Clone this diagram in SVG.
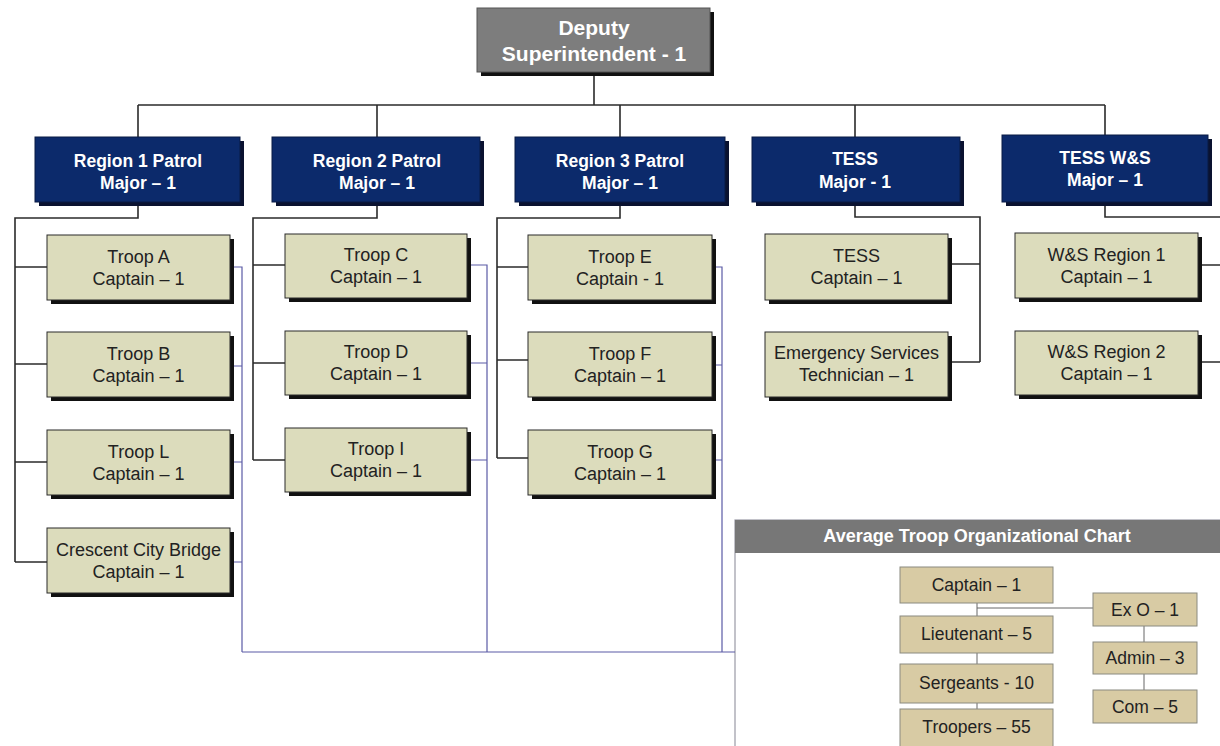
<svg xmlns="http://www.w3.org/2000/svg" width="1220" height="746" viewBox="0 0 1220 746">
<style>
text{font-family:"Liberation Sans",Arial,sans-serif;text-anchor:middle}
.sh{fill:#111}
.troop{fill:#dcdcbc;stroke:#2a2a2a;stroke-width:1}
.tt{font-size:18px;fill:#222}
.reg{fill:#0c2a6b;stroke:#081a45;stroke-width:1}
.rsh{fill:#0a1230}
.rt{font-size:17.5px;font-weight:bold;fill:#fff}
.dep{fill:#7d7d7d;stroke:#555;stroke-width:1}
.dt{font-size:21px;font-weight:bold;fill:#fff}
.conn{fill:none;stroke:#2b2b2b;stroke-width:1.6}
.blue{fill:none;stroke:#5b5ba6;stroke-width:1.2}
.ib{fill:#d8cba4;stroke:#8a8a80;stroke-width:1}
.it{font-size:17.5px;fill:#222}
.thin{fill:none;stroke:#666;stroke-width:1}
</style>
<rect width="1220" height="746" fill="#fff"/>

<g id="inset">
  <rect x="735" y="520" width="500" height="240" fill="#fff" stroke="#9a9aa6" stroke-width="1.2"/>
  <rect x="735" y="520" width="500" height="33" fill="#777"/>
  <text x="977" y="542" style="font-size:18px;font-weight:bold;fill:#fff">Average Troop Organizational Chart</text>
</g>

<g id="connectors">
  <path class="conn" d="M594 73V105M138 105H1105M138 105V137M377 105V137M620 105V137M855 105V137M1105 105V135"/>
  <path class="conn" d="M138 202V218H15V562M15 267H47M15 364H47M15 462H47M15 562H47"/>
  <path class="conn" d="M377 202V218H253V460M253 265H285M253 363H285M253 460H285"/>
  <path class="conn" d="M620 202V218H497V458M497 267H528M497 360H528M497 458H528"/>
  <path class="conn" d="M855 202V217H980V362M948 264H980M948 362H980"/>
  <path class="conn" d="M1105 202V217H1220M1198 265H1220M1198 362H1220"/>
  <path class="blue" d="M230 267H242V652M230 366H242M230 462H242M230 562H242"/>
  <path class="blue" d="M467 265H487V652M467 363H487M467 460H487"/>
  <path class="blue" d="M712 267H722V652M712 365H722M712 460H722"/>
  <path class="blue" d="M242 652H735"/>
  <path class="thin" d="M977 603V616M977 653V664M977 703V709M977 608H1093M1144 626V642M1144 674V690"/>
</g>

<g id="deputy">
  <rect class="sh" x="481" y="12" width="233" height="64"/>
  <rect class="dep" x="477" y="8" width="233" height="64"/>
  <text class="dt" x="594" y="35">Deputy</text>
  <text class="dt" x="594" y="61">Superintendent - 1</text>
</g>

<g id="region1">
  <rect class="rsh" x="39" y="141" width="205" height="65"/>
  <rect class="reg" x="35" y="137" width="205" height="65"/>
  <text class="rt" x="138" y="167">Region 1 Patrol</text>
  <text class="rt" x="138" y="189">Major – 1</text>
</g>
<g id="region2">
  <rect class="rsh" x="276" y="141" width="208" height="65"/>
  <rect class="reg" x="272" y="137" width="208" height="65"/>
  <text class="rt" x="377" y="167">Region 2 Patrol</text>
  <text class="rt" x="377" y="189">Major – 1</text>
</g>
<g id="region3">
  <rect class="rsh" x="519" y="141" width="210" height="65"/>
  <rect class="reg" x="515" y="137" width="210" height="65"/>
  <text class="rt" x="620" y="167">Region 3 Patrol</text>
  <text class="rt" x="620" y="189">Major – 1</text>
</g>
<g id="tess">
  <rect class="rsh" x="756" y="141" width="208" height="65"/>
  <rect class="reg" x="752" y="137" width="208" height="65"/>
  <text class="rt" x="855" y="165">TESS</text>
  <text class="rt" x="855" y="188">Major - 1</text>
</g>
<g id="tessws">
  <rect class="rsh" x="1006" y="139" width="206" height="67"/>
  <rect class="reg" x="1002" y="135" width="206" height="67"/>
  <text class="rt" x="1105" y="164">TESS W&amp;S</text>
  <text class="rt" x="1105" y="186">Major – 1</text>
</g>

<g id="troopA">
  <rect class="sh" x="51" y="239" width="183" height="65"/>
  <rect class="troop" x="47" y="235" width="183" height="65"/>
  <text class="tt" x="138.5" y="263">Troop A</text>
  <text class="tt" x="138.5" y="285">Captain – 1</text>
</g>
<g id="troopB">
  <rect class="sh" x="51" y="336" width="183" height="65"/>
  <rect class="troop" x="47" y="332" width="183" height="65"/>
  <text class="tt" x="138.5" y="360">Troop B</text>
  <text class="tt" x="138.5" y="382">Captain – 1</text>
</g>
<g id="troopL">
  <rect class="sh" x="51" y="434" width="183" height="65"/>
  <rect class="troop" x="47" y="430" width="183" height="65"/>
  <text class="tt" x="138.5" y="458">Troop L</text>
  <text class="tt" x="138.5" y="480">Captain – 1</text>
</g>
<g id="crescent">
  <rect class="sh" x="51" y="532" width="183" height="65"/>
  <rect class="troop" x="47" y="528" width="183" height="65"/>
  <text class="tt" x="138.5" y="556">Crescent City Bridge</text>
  <text class="tt" x="138.5" y="578">Captain – 1</text>
</g>

<g id="troopC">
  <rect class="sh" x="289" y="238" width="182" height="64"/>
  <rect class="troop" x="285" y="234" width="182" height="64"/>
  <text class="tt" x="376" y="261">Troop C</text>
  <text class="tt" x="376" y="283">Captain – 1</text>
</g>
<g id="troopD">
  <rect class="sh" x="289" y="335" width="182" height="64"/>
  <rect class="troop" x="285" y="331" width="182" height="64"/>
  <text class="tt" x="376" y="358">Troop D</text>
  <text class="tt" x="376" y="380">Captain – 1</text>
</g>
<g id="troopI">
  <rect class="sh" x="289" y="432" width="182" height="64"/>
  <rect class="troop" x="285" y="428" width="182" height="64"/>
  <text class="tt" x="376" y="455">Troop I</text>
  <text class="tt" x="376" y="477">Captain – 1</text>
</g>

<g id="troopE">
  <rect class="sh" x="532" y="239" width="184" height="65"/>
  <rect class="troop" x="528" y="235" width="184" height="65"/>
  <text class="tt" x="620" y="263">Troop E</text>
  <text class="tt" x="620" y="285">Captain - 1</text>
</g>
<g id="troopF">
  <rect class="sh" x="532" y="336" width="184" height="65"/>
  <rect class="troop" x="528" y="332" width="184" height="65"/>
  <text class="tt" x="620" y="360">Troop F</text>
  <text class="tt" x="620" y="382">Captain – 1</text>
</g>
<g id="troopG">
  <rect class="sh" x="532" y="434" width="184" height="65"/>
  <rect class="troop" x="528" y="430" width="184" height="65"/>
  <text class="tt" x="620" y="458">Troop G</text>
  <text class="tt" x="620" y="480">Captain – 1</text>
</g>

<g id="tessCaptain">
  <rect class="sh" x="769" y="238" width="183" height="66"/>
  <rect class="troop" x="765" y="234" width="183" height="66"/>
  <text class="tt" x="856.5" y="262">TESS</text>
  <text class="tt" x="856.5" y="284">Captain – 1</text>
</g>
<g id="est">
  <rect class="sh" x="769" y="336" width="183" height="65"/>
  <rect class="troop" x="765" y="332" width="183" height="65"/>
  <text class="tt" x="856.5" y="359">Emergency Services</text>
  <text class="tt" x="856.5" y="381">Technician – 1</text>
</g>

<g id="ws1">
  <rect class="sh" x="1019" y="237" width="183" height="65"/>
  <rect class="troop" x="1015" y="233" width="183" height="65"/>
  <text class="tt" x="1106.5" y="261">W&amp;S Region 1</text>
  <text class="tt" x="1106.5" y="283">Captain – 1</text>
</g>
<g id="ws2">
  <rect class="sh" x="1019" y="335" width="183" height="64"/>
  <rect class="troop" x="1015" y="331" width="183" height="64"/>
  <text class="tt" x="1106.5" y="358">W&amp;S Region 2</text>
  <text class="tt" x="1106.5" y="380">Captain – 1</text>
</g>

<g id="captain">
  <rect class="ib" x="900" y="567" width="153" height="36"/>
  <text class="it" x="976.5" y="591">Captain – 1</text>
</g>
<g id="lieutenant">
  <rect class="ib" x="900" y="616" width="153" height="37"/>
  <text class="it" x="976.5" y="640">Lieutenant – 5</text>
</g>
<g id="sergeants">
  <rect class="ib" x="900" y="664" width="153" height="39"/>
  <text class="it" x="976.5" y="689">Sergeants - 10</text>
</g>
<g id="troopers">
  <rect class="ib" x="900" y="709" width="153" height="40"/>
  <text class="it" x="976.5" y="733">Troopers – 55</text>
</g>
<g id="exo">
  <rect class="ib" x="1093" y="593" width="104" height="33"/>
  <text class="it" x="1145" y="616">Ex O – 1</text>
</g>
<g id="admin">
  <rect class="ib" x="1093" y="642" width="104" height="32"/>
  <text class="it" x="1145" y="664">Admin  – 3</text>
</g>
<g id="com">
  <rect class="ib" x="1093" y="690" width="104" height="33"/>
  <text class="it" x="1145" y="713">Com – 5</text>
</g>
</svg>
